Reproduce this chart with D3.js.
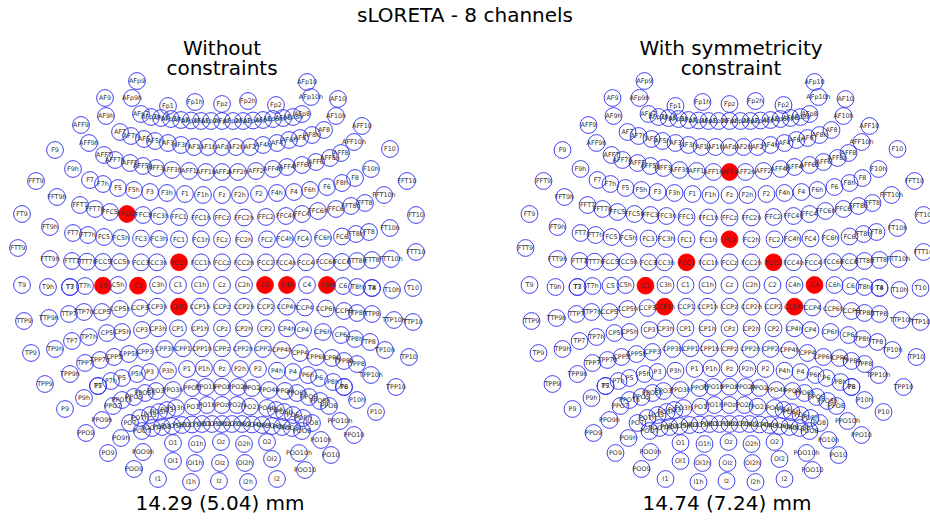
<!DOCTYPE html>
<html>
<head>
<meta charset="utf-8">
<script src="https://cdn.jsdelivr.net/npm/d3@7"></script>
<style>
  body { margin: 0; background: #fff; }
  text { font-family: "DejaVu Sans", Verdana, sans-serif; }
</style>
</head>
<body>
<div id="chart"></div>
<script>
// Electrode layout, [label, x, y] in layout units (x to the right, y towards the back, Cz at 0,0)

const rowFp = [['Fp1',-54,-179],['Fp1h',-27,-183],['Fpz',0,-181],['Fp2h',26,-184],['Fp2',54,-180]]

const rowAFp = [['AFp9',-85,-204],['AFp9h',-90,-187],['AFp7',-81,-171],['AFp7h',-71,-168],['AFp5',-61,-167],
  ['AFp5h',-51,-166],['AFp3',-41,-165],['AFp3h',-31,-164.5],['AFp1',-21,-164],['AFp1h',-11,-164],['AFpz',0,-164],
  ['AFp2h',11,-164],['AFp2',21,-164],['AFp4h',31,-164.5],['AFp4',41,-165],['AFp6h',51,-166],['AFp6',61,-167],
  ['AFp8h',71,-168],['AFp8',80,-171],['AFp10h',89,-188],['AFp10',85,-203]]

const rowAF = [['AF9',-117,-187],['AF9h',-116,-169],['AF7',-102,-153],['AF7h',-91,-149],['AF5',-78,-146],
  ['AF5h',-67,-144],['AF3',-54,-142],['AF3h',-41,-140],['AF1',-28,-138],['AF1h',-14,-138],['AFz',0,-138],
  ['AF2h',14,-138],['AF2',28,-138],['AF4h',41,-140],['AF4',55,-142],['AF6h',67,-145],['AF6',78,-147],
  ['AF8h',90,-150],['AF8',102,-155],['AF10h',114,-169],['AF10',116,-186]]

const rowAFF = [['AFF9',-141,-160],['AFF9h',-133,-142],['AFF7',-118,-130],['AFF7h',-107,-125],['AFF5',-92,-122],
  ['AFF5h',-79,-119],['AFF3',-66,-117],['AFF3h',-50,-115],['AFF1',-33,-114],['AFF1h',-16,-113],['AFFz',0,-113],
  ['AFF2h',16,-113],['AFF2',34,-114],['AFF4h',51,-116],['AFF4',65,-118],['AFF6h',80,-120],['AFF6',94,-123],
  ['AFF8h',108,-127],['AFF8',119,-132],['AFF10h',132,-143],['AFF10',140,-159]]

const rowF = [['F9',-167,-135],['F9h',-149,-116],['F7',-132,-105],['F7h',-119,-101],['F5',-104,-97],
  ['F5h',-88,-95],['F3',-72,-93],['F3h',-55,-92],['F1',-37,-91],['F1h',-19,-90],['Fz',0,-90],
  ['F2h',18,-90],['F2',37,-91],['F4h',55,-92],['F4',72,-93],['F6h',88,-95],['F6',105,-98],
  ['F8h',120,-102],['F8',133,-107],['F10h',149,-116],['F10',168,-136]]

const rowFFC = [['FFT9',-186,-104],['FFT9h',-165,-88],['FFT7',-142,-80],['FFT7h',-127,-76],['FFC5',-112,-73],
  ['FFC5h',-95,-71],['FFC3',-79,-70],['FFC3h',-63,-69],['FFC1',-43,-68],['FFC1h',-21,-67.5],['FFCz',0,-67.5],
  ['FFC2h',22,-67.5],['FFC2',44,-68],['FFC4h',64,-69],['FFC4',80,-71],['FFC6h',96,-74],['FFC6',114,-76],
  ['FFT8h',129,-79],['FFT8',143,-82],['FFT10h',162,-90],['FFT10',185,-104]]

const rowFC = [['FT9',-200,-71],['FT9h',-172,-58],['FT7',-149,-52],['FT7h',-134,-50],['FC5',-118,-48],
  ['FC5h',-101,-47],['FC3',-81,-46.5],['FC3h',-63,-46],['FC1',-43,-45.7],['FC1h',-21,-45.7],['FCz',0,-45.7],
  ['FC2h',22,-45.7],['FC2',45,-45.7],['FC4h',63,-46],['FC4',81,-46.5],['FC6h',101,-47],['FC6',120,-48.5],
  ['FT8h',134,-51],['FT8',147,-53],['FT10h',168,-57],['FT10',194,-70]]

const rowFCC = [['FTT9',-204,-37],['FTT9h',-172,-26],['FTT7',-150,-24],['FTT7h',-135,-23.3],['FCC5',-119,-23],
  ['FCC5h',-102,-23],['FCC3',-81,-22.7],['FCC3h',-65,-22.7],['FCC1',-43,-22.7],['FCC1h',-21,-22.7],['FCCz',0,-22.7],
  ['FCC2h',22,-22.7],['FCC2',44,-22.7],['FCC4h',64,-22.7],['FCC4',84,-22.7],['FCC6h',104,-23],['FCC6',120,-23],
  ['FTT8h',135,-24],['FTT8',150,-25],['FTT10h',169,-26],['FTT10',194,-33]]

const rowC = [['T9',-200,0],['T9h',-174,2],['T7',-152,2],['T3',-152,2],['T7h',-137,1],['C5',-119,0.7],
  ['C5h',-104,0],['C3',-84,0.7],['C3h',-64,0],['C1',-44,0],['C1h',-22,0],['Cz',0,0],
  ['C2h',22,0],['C2',43,0],['C4h',65,0],['C4',85,0],['C6h',105,0],['C6',121,1],
  ['T8h',135,2],['T8',150,3],['T4',150,3],['T10h',170,5],['T10',191,3]]

const rowCCP = [['TTP9',-198,36],['TTP9h',-173,33],['TTP7',-153,29],['TTP7h',-138,27],['CCP5',-120,27],
  ['CCP5h',-102,24],['CCP3',-82,23],['CCP3h',-65,21.7],['CCP1',-43,21.7],['CCP1h',-22,21.7],['CCPz',0,21.7],
  ['CCP2h',22,21.7],['CCP2',44,21.7],['CCP4h',65,21.7],['CCP4',83,22.5],['CCP6h',104,23.5],['CCP6',122,26],
  ['TTP8h',135,28],['TTP8',150,29],['TTP10h',172,35],['TTP10',191,37]]

const rowCP = [['TP9',-191,68],['TP9h',-167,64],['TP7',-150,56],['TP7h',-133,52],['CP5',-115,48],
  ['CP5h',-100,47],['CP3',-80,45],['CP3h',-64,43.3],['CP1',-44,43.3],['CP1h',-22,43.3],['CPz',0,43.3],
  ['CP2h',22,43.3],['CP2',44,43.3],['CP4h',65,43.3],['CP4',81,45],['CP6h',101,47],['CP6',119,50],
  ['TP8h',133,54],['TP8',148,57],['TP10h',163,65],['TP10',187,72]]

const rowCPP = [['TPP9',-177,99],['TPP9h',-152,89],['TPP7',-137,78],['TPP7h',-122,75],['CPP5',-108,72],
  ['CPP5h',-93,69],['CPP3',-77,67],['CPP3h',-57,64],['CPP1',-39,63.3],['CPP1h',-20,63.3],['CPPz',0,63.3],
  ['CPP2h',21,64],['CPP2',41,64],['CPP4h',60,65],['CPP4',78,68],['CPP6h',94,72],['CPP6',110,73],
  ['TPP8h',122,76],['TPP8',135,79],['TPP10h',149,90],['TPP10',174,102]]

const rowP = [['P9',-157,124],['P9h',-138,113],['P7',-124,101],['T5',-124,101],['P7h',-111,96],['P5',-100,93],
  ['P5h',-85,89],['P3',-72,87],['P3h',-54,85.7],['P1',-35,84],['P1h',-18,83.3],['Pz',0,83.3],
  ['P2h',18,84],['P2',36,84],['P4h',55,85.7],['P4',71,87],['P6h',86,90],['P6',97,93],
  ['P8h',111,97],['P8',122,102],['T6',122,102],['P10h',135,115],['P10',154,127]]

const rowPPO = [['PPO9',-136,148],['PPO9h',-120,135],['PPO7',-109,121],['PPO7h',-100,115],['PPO5',-88,112],
  ['PPO5h',-77,108],['PPO3',-66,106],['PPO3h',-49,105],['PPO1',-30,103],['PPO1h',-16,102],['PPOz',0,101.7],
  ['PPO2h',16,102],['PPO2',30,103],['PPO4h',47,105],['PPO4',63,106],['PPO6h',75,108],['PPO6',87,112],
  ['PPO8h',98,116],['PPO8',107,121],['PPO10h',118,136],['PPO10',132,150]]

const rowPO = [['PO9',-114,168],['PO9h',-101,153],['PO7',-92,138],['PO7h',-82,133],['PO5',-72,130],
  ['PO5h',-63,127],['PO3',-55,125],['PO3h',-46,123],['PO1',-29,121.7],['PO1h',-15,120],['POz',0,120],
  ['PO2h',15,120],['PO2',28,121.7],['PO4h',45,123],['PO4',54,125],['PO6h',62,127],['PO6',71,130],
  ['PO8h',81,133],['PO8',90,138],['PO10h',99,155],['PO10',109,170]]

const rowPOO = [['POO9',-88,184],['POO9h',-79,167],['POO7',-80,146],['POO7h',-70,143],['POO5',-60,142],
  ['POO5h',-50,141],['POO3',-40,140],['POO3h',-30,139.5],['POO1',-20,139],['POO1h',-10,139],['POOz',0,139],
  ['POO2h',10,139],['POO2',20,139],['POO4h',30,139.5],['POO4',40,140],['POO6h',50,141],['POO6',60,142],
  ['POO8h',70,143],['POO8',80,146],['POO10h',77,168],['POO10',83,185]]

const rowO = [['O1',-49,158],['O1h',-25,159],['Oz',-1,157],['O2h',22,159],['O2',45,157]]
const rowOI = [['OI1',-49,176],['OI1h',-27,178],['OIz',-2,178],['OI2h',23,178],['OI2',50,174]]
const rowI = [['I1',-64,194],['I1h',-31,197],['Iz',-3,196],['I2h',26,197],['I2',55,194]]

// Selected channels in each solution
const activeLeft = ['FFC5h', 'FCC1', 'C5', 'C3', 'C2', 'C4h', 'C6h', 'CCP1']
const activeRight = ['AFFz', 'FCz', 'FCC1', 'FCC2', 'C3', 'C4', 'CCP3h', 'CCP4h']

const chartTitle = 'sLORETA - 8 channels'
const panelTitles = [['Without', 'constraints'], ['With symmetricity', 'constraint']]
const panelErrors = ['14.29 (5.04) mm', '14.74 (7.24) mm']

const electrodes = [].concat(rowFp, rowAFp, rowAF, rowAFF, rowF, rowFFC, rowFC, rowFCC, rowC,
  rowCCP, rowCP, rowCPP, rowP, rowPPO, rowPO, rowPOO, rowO, rowOI, rowI)
  .map(([name, x, y]) => ({name, x, y}))

const width = 930
const height = 521
const r = 8.4

const svg = d3.select('#chart')
  .append('svg')
    .attr('width', width)
    .attr('height', height)

svg.append('text')
    .attr('x', 465)
    .attr('y', 22)
    .attr('text-anchor', 'middle')
    .style('font-size', '20px')
    .text(chartTitle)

const y = d3.scaleLinear()
  .domain([-285, 236])
  .range([0, height])

const panels = [
  {center: 222, titleX: 222, errorX: 220, active: activeLeft},
  {center: 729.5, titleX: 731, errorX: 727, active: activeRight}
]

panels.forEach((p, i) => {
  const x = d3.scaleLinear()
    .domain([-222, 222])
    .range([p.center - 222, p.center + 222])

  const g = svg.append('g')
  const isActive = (d) => p.active.includes(d.name)

  g.selectAll('circle')
      .data(electrodes)
    .enter().append('circle')
      .attr('cx', (d) => x(d.x))
      .attr('cy', (d) => y(d.y))
      .attr('r', r)
      .style('fill', (d) => isActive(d) ? '#ff0000' : 'none')
      .style('stroke', (d) => isActive(d) ? '#ff0000' : '#2b2bf0')
      .style('stroke-width', 0.9)

  g.selectAll('text.label')
      .data(electrodes)
    .enter().append('text')
      .attr('class', 'label')
      .attr('x', (d) => x(d.x))
      .attr('y', (d) => y(d.y))
      .attr('dy', '0.36em')
      .attr('text-anchor', 'middle')
      .style('font-size', '6.4px')
      .style('fill', '#333')
      .text((d) => d.name)

  svg.selectAll(null)
      .data(panelTitles[i])
    .enter().append('text')
      .attr('x', p.titleX)
      .attr('y', (d, j) => 55 + j * 20)
      .attr('text-anchor', 'middle')
      .style('font-size', '20px')
      .text((d) => d)

  svg.append('text')
      .attr('x', p.errorX)
      .attr('y', 510)
      .attr('text-anchor', 'middle')
      .style('font-size', '20px')
      .text(panelErrors[i])
})
</script>
</body>
</html>
